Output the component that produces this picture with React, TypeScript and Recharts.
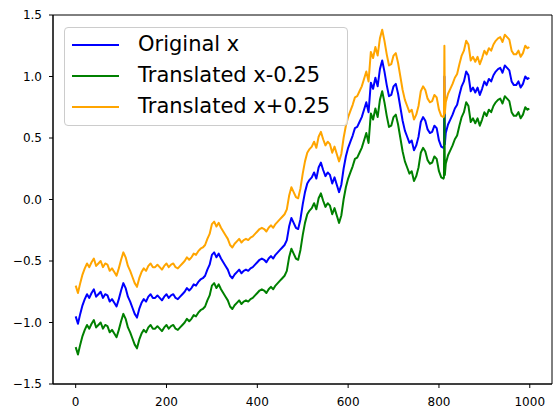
import React from "react"
import {
  LineChart,
  Line,
  XAxis,
  YAxis,
  Legend,
  ReferenceArea
} from "recharts"

// step index of each sampled point
const steps = [
  0, 5, 10, 15, 20, 25, 30, 35, 40, 45, 50, 55, 60, 65, 70, 75, 80, 85, 90, 95,
  100, 105, 110, 115, 120, 125, 130, 135, 140, 145, 150, 155, 160, 165, 170, 175, 180, 185, 190, 195,
  200, 205, 210, 215, 220, 225, 230, 235, 240, 245, 250, 255, 260, 265, 270, 275, 280, 285, 290, 295,
  300, 305, 310, 315, 320, 325, 330, 335, 340, 345, 350, 355, 360, 365, 370, 375, 380, 385, 390, 395,
  400, 405, 410, 415, 420, 425, 430, 435, 440, 445, 450, 455, 460, 465, 470, 475, 480, 485, 490, 495,
  500, 505, 510, 515, 520, 525, 530, 535, 540, 545, 550, 555, 560, 565, 570, 575, 580, 585, 590, 595,
  600, 605, 610, 615, 620, 625, 630, 635, 640, 645, 650, 655, 660, 665, 670, 675, 680, 685, 690, 695,
  700, 705, 710, 715, 720, 725, 730, 735, 740, 745, 750, 755, 760, 765, 770, 775, 780, 785, 790, 795,
  800, 805, 810, 811, 812, 813, 815, 820, 825, 830, 835, 840, 845, 850, 855, 860, 865, 870, 875, 880, 885, 890, 895,
  900, 905, 910, 915, 920, 925, 930, 935, 940, 945, 950, 955, 960, 965, 970, 975, 980, 985, 990, 995, 999
]

// "Original x" values
const original = [
  -0.95, -1.01, -0.93, -0.86, -0.81, -0.77, -0.80, -0.76, -0.73, -0.79, -0.77, -0.75, -0.80, -0.77, -0.78, -0.83, -0.81, -0.84, -0.87, -0.81,
  -0.74, -0.68, -0.72, -0.79, -0.83, -0.88, -0.93, -0.96, -0.89, -0.84, -0.81, -0.83, -0.79, -0.77, -0.80, -0.80, -0.78, -0.80, -0.82, -0.79,
  -0.77, -0.80, -0.78, -0.77, -0.80, -0.81, -0.79, -0.77, -0.75, -0.72, -0.74, -0.72, -0.69, -0.70, -0.67, -0.65, -0.64, -0.62, -0.57, -0.53,
  -0.45, -0.43, -0.47, -0.44, -0.48, -0.51, -0.54, -0.57, -0.62, -0.64, -0.61, -0.59, -0.57, -0.60, -0.58, -0.57, -0.58, -0.56, -0.55, -0.53,
  -0.51, -0.49, -0.48, -0.49, -0.51, -0.48, -0.46, -0.48, -0.45, -0.43, -0.41, -0.39, -0.37, -0.33, -0.22, -0.15, -0.19, -0.23, -0.24, -0.16,
  -0.04, 0.06, 0.13, 0.16, 0.18, 0.22, 0.17, 0.26, 0.30, 0.24, 0.19, 0.22, 0.20, 0.13, 0.18, 0.12, 0.06, 0.12, 0.25, 0.35,
  0.42, 0.47, 0.52, 0.58, 0.59, 0.63, 0.67, 0.73, 0.79, 0.71, 0.95, 0.90, 0.99, 0.92, 1.06, 1.13, 1.04, 0.93, 0.84, 0.85,
  0.92, 0.94, 0.86, 0.75, 0.64, 0.56, 0.51, 0.46, 0.48, 0.40, 0.44, 0.51, 0.63, 0.67, 0.64, 0.57, 0.54, 0.55, 0.60, 0.58,
  0.48, 0.43, 0.42, 0.43, 1.00, 0.45, 0.54, 0.61, 0.65, 0.69, 0.74, 0.77, 0.85, 0.92, 0.96, 1.04, 1.01, 0.88, 0.91, 0.87, 0.91, 0.85, 0.90,
  0.96, 0.93, 0.98, 0.96, 1.01, 1.04, 1.06, 1.07, 1.03, 1.09, 1.07, 1.05, 0.96, 0.93, 0.93, 0.96, 0.91, 0.94, 1.00, 0.98, 0.99
]

const shift = 0.25

const xTicks = [0, 200, 400, 600, 800, 1000]
const yTicks = [-1.5, -1.0, -0.5, 0.0, 0.5, 1.0, 1.5]

const series = [
  { key: "orig", name: "Original x", color: "#0000ff" },
  { key: "down", name: "Translated x-0.25", color: "#008000" },
  { key: "up", name: "Translated x+0.25", color: "#ffa500" }
]

const data = steps.map((s, i) => ({
  x: s,
  orig: original[i],
  down: original[i] - shift,
  up: original[i] + shift
}))

const font = "DejaVu Sans, Liberation Sans, sans-serif"

function LegendBox() {
  return (
    <div
      style={{
        position: "relative",
        width: 284,
        height: 99,
        boxSizing: "border-box",
        border: "1px solid #cccccc",
        borderRadius: 4,
        background: "rgba(255,255,255,0.8)",
        fontFamily: font,
        fontSize: 21,
        color: "#000"
      }}
    >
      {series.map((s, k) => (
        <div
          key={s.key}
          style={{
            position: "absolute",
            left: 0,
            top: 1 + k * 31,
            height: 31,
            display: "flex",
            alignItems: "center",
            whiteSpace: "nowrap"
          }}
        >
          <svg width={73} height={4} style={{ display: "block" }}>
            <line x1={7} x2={54} y1={2} y2={2} stroke={s.color} strokeWidth={1.8} />
          </svg>
          <span style={{ lineHeight: "31px" }}>{s.name}</span>
        </div>
      ))}
    </div>
  )
}

const fmtY = (v: number) => v.toFixed(1).replace("-", "\u2212")

export default function App() {
  return (
    <div style={{ position: "absolute", left: 0, top: 0, width: 559, height: 418, background: "#fff" }}>
      <LineChart
        width={559}
        height={418}
        data={data}
        margin={{ top: 15, right: 7, bottom: 0, left: 0 }}
      >
        <ReferenceArea
          x1={-49.95}
          x2={1048.95}
          y1={-1.5}
          y2={1.5}
          fill="none"
          stroke="#000"
          strokeWidth={1}
          ifOverflow="visible"
        />
        <XAxis
          dataKey="x"
          type="number"
          domain={[-49.95, 1048.95]}
          ticks={xTicks}
          height={34}
          tickSize={4}
          tickMargin={9}
          axisLine={{ stroke: "#000" }}
          tickLine={{ stroke: "#000" }}
          tick={{ fill: "#000", fontSize: 12, fontFamily: font }}
          allowDataOverflow
        />
        <YAxis
          type="number"
          domain={[-1.5, 1.5]}
          ticks={yTicks}
          width={53}
          tickSize={4}
          tickMargin={7}
          tickFormatter={fmtY}
          axisLine={{ stroke: "#000" }}
          tickLine={{ stroke: "#000" }}
          tick={{ fill: "#000", fontSize: 12, fontFamily: font }}
          allowDataOverflow
        />
        <Legend
          layout="vertical"
          align="center"
          verticalAlign="middle"
          content={() => <LegendBox />}
          wrapperStyle={{ left: 64, top: 27, width: 284, height: 99 }}
        />
        {series.map((s) => (
          <Line
            key={s.key}
            dataKey={s.key}
            name={s.name}
            stroke={s.color}
            strokeWidth={2}
            strokeLinejoin="round"
            dot={false}
            type="linear"
            isAnimationActive={false}
          />
        ))}
      </LineChart>
    </div>
  )
}
